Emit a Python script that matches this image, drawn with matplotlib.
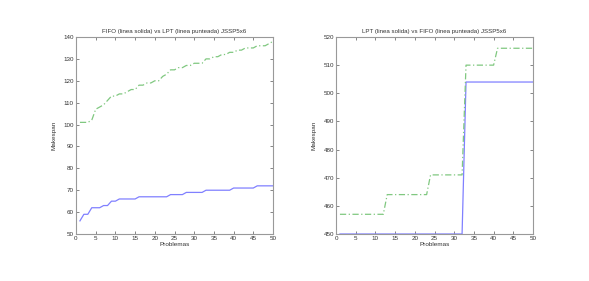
print('### --- section_s: data --- ###')
import numpy as np
from matplotlib import pyplot as plt

problemas = np.arange(1, 51)

# left: FIFO solid, LPT dash-dot
fifo_a = [56, 59, 59, 62, 62, 62, 63, 63, 65, 65,
          66, 66, 66, 66, 66, 67, 67, 67, 67, 67,
          67, 67, 67, 68, 68, 68, 68, 69, 69, 69,
          69, 69, 70, 70, 70, 70, 70, 70, 70, 71,
          71, 71, 71, 71, 71, 72, 72, 72, 72, 72]
lpt_a = [101, 101, 101, 102, 107, 108, 109, 111, 113, 113,
         114, 114, 115, 116, 116, 118, 118, 119, 119, 120,
         120, 122, 123, 125, 125, 126, 126, 127, 127, 128,
         128, 128, 130, 130, 131, 131, 132, 132, 133, 133,
         134, 134, 135, 135, 135, 136, 136, 136, 137, 138]

# right: LPT solid, FIFO dash-dot
lpt_b = [450] * 32 + [504] * 18
fifo_b = [457] * 12 + [464] * 11 + [471] * 9 + [510] * 8 + [516] * 10

titles = ['FIFO (linea solida) vs LPT (linea punteada) JSSP5x6',
          'LPT (linea solida) vs FIFO (linea punteada) JSSP5x6']
ylims = [(50, 140), (450, 520)]
yticks = [np.arange(50, 141, 10), np.arange(450, 521, 10)]

print('### --- section_d: drawing graph --- ###')
plt.rcParams['font.family'] = ['Liberation Sans', 'DejaVu Sans']
plt.rcParams['font.size'] = 4.5

fig = plt.figure(figsize=(5.89, 2.81), dpi=100)
ax1 = fig.add_axes([76/589, 47/281, 197/589, 197/281])
ax2 = fig.add_axes([336/589, 47/281, 197/589, 197/281])

ax1.plot(problemas, fifo_a, color='#8080ff', linewidth=0.9)
ax1.plot(problemas, lpt_a, color='#80c880', linewidth=0.9, linestyle=(0, (5, 2, 1, 2)))
ax2.plot(problemas, lpt_b, color='#8080ff', linewidth=0.9)
ax2.plot(problemas, fifo_b, color='#80c880', linewidth=0.9, linestyle=(0, (5, 2, 1, 2)))

for ax, ttl, yl, yt in zip([ax1, ax2], titles, ylims, yticks):
    ax.set_xlim(0, 50)
    ax.set_ylim(*yl)
    ax.set_xticks(np.arange(0, 51, 5))
    ax.set_yticks(yt)
    ax.set_title(ttl, fontsize=4.4, pad=3, color='#333333')
    ax.set_xlabel('Problemas', fontsize=4.6, labelpad=1, color='#333333')
    ax.set_ylabel('Makespan', fontsize=4.6, labelpad=5, color='#333333')
    ax.tick_params(direction='in', length=2, width=0.5, top=True, right=True,
                   pad=1.5, labelsize=4.5, colors='#555555', labelcolor='#333333')
    for sp in ax.spines.values():
        sp.set_color('#999999')
        sp.set_linewidth(0.8)

fig.savefig('out.png', dpi=100)
